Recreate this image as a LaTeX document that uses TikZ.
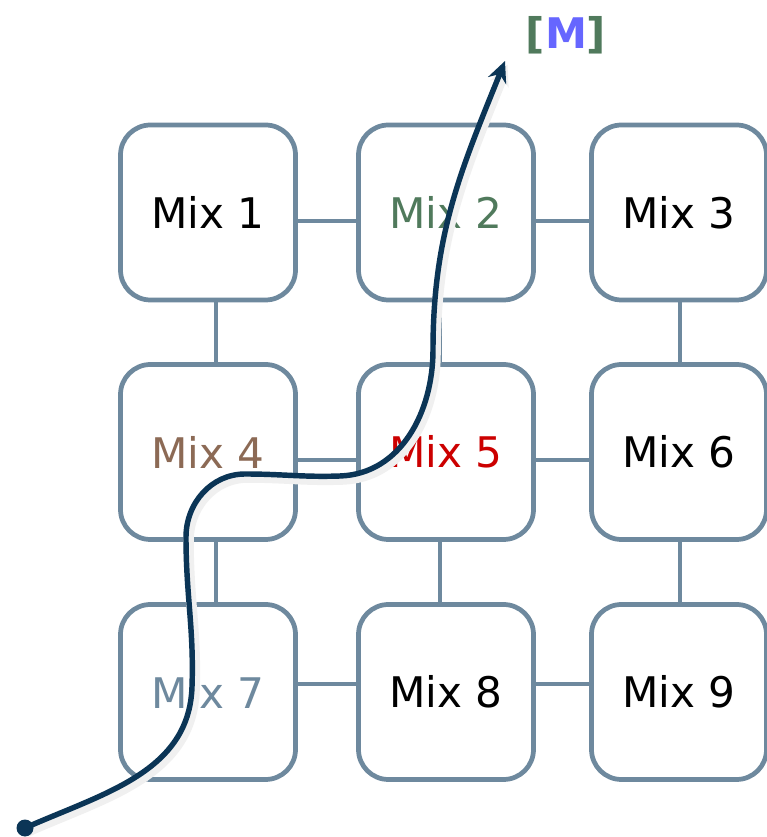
\documentclass[tikz,border=0pt]{standalone}
\usepackage{fontspec}
\setmainfont{DejaVu Sans}
\usetikzlibrary{arrows.meta,positioning}
\definecolor{mixframe}{HTML}{6E899E}
\definecolor{mixgreen}{HTML}{507A5C}
\definecolor{mixbrown}{HTML}{8C6A55}
\definecolor{mixred}{HTML}{CC0000}
\definecolor{mixblue}{HTML}{6666FF}
\definecolor{routenavy}{HTML}{0B3556}

\begin{document}
\begin{tikzpicture}[
  mixbox/.style={draw=mixframe,line width=2.7pt,rounded corners=0.6cm,minimum size=3.5cm,fill=white,font=\fontsize{24}{29}\selectfont},
  link/.style={draw=mixframe,line width=2.7pt},
  route/.style={draw=routenavy,line width=3.1pt,-{Stealth[length=12pt,width=11pt,inset=4pt]},
    preaction={draw=black!6,line width=6pt,transform canvas={shift={(0.05,-0.07)}}}},
  startdot/.style={circle,fill=routenavy,inner sep=0pt,minimum size=0.34cm}
]
  \useasboundingbox (0,0) rectangle (15.34,16.74);

  \node[mixbox] (mix1) at (4.16,12.49) {Mix 1};
  \node[mixbox,text=mixgreen] (mix2) at (8.92,12.49) {Mix 2};
  \node[mixbox] (mix3) at (13.58,12.49) {Mix 3};
  \node[mixbox,text=mixbrown] (mix4) at (4.16,7.70) {Mix 4};
  \node[mixbox,text=mixred] (mix5) at (8.92,7.70) {Mix 5};
  \node[mixbox] (mix6) at (13.58,7.70) {Mix 6};
  \node[mixbox,text=mixframe] (mix7) at (4.16,2.90) {Mix 7};
  \node[mixbox] (mix8) at (8.92,2.90) {Mix 8};
  \node[mixbox] (mix9) at (13.58,2.90) {Mix 9};

  \draw[link] ([yshift=-0.17cm]mix1.east) -- ([yshift=-0.17cm]mix2.west);
  \draw[link] ([yshift=-0.17cm]mix2.east) -- ([yshift=-0.17cm]mix3.west);
  \draw[link] ([yshift=-0.16cm]mix4.east) -- ([yshift=-0.16cm]mix5.west);
  \draw[link] ([yshift=-0.16cm]mix5.east) -- ([yshift=-0.16cm]mix6.west);
  \draw[link] ([yshift=0.16cm]mix7.east) -- ([yshift=0.16cm]mix8.west);
  \draw[link] ([yshift=0.16cm]mix8.east) -- ([yshift=0.16cm]mix9.west);
  \draw[link] ([xshift=0.16cm]mix1.south) -- ([xshift=0.16cm]mix4.north);
  \draw[link] ([xshift=-0.12cm]mix2.south) -- ([xshift=-0.12cm]mix5.north);
  \draw[link] ([xshift=0.02cm]mix3.south) -- ([xshift=0.02cm]mix6.north);
  \draw[link] ([xshift=0.16cm]mix4.south) -- ([xshift=0.16cm]mix7.north);
  \draw[link] ([xshift=-0.12cm]mix5.south) -- ([xshift=-0.12cm]mix8.north);
  \draw[link] ([xshift=0.02cm]mix6.south) -- ([xshift=0.02cm]mix9.north);

  \node[font=\fontsize{24}{29}\selectfont\bfseries,text=mixgreen] (mark) at (11.32,16.04) {[\textcolor{mixblue}{M}]};

  \coordinate (start) at (0.5,0.18);
  \coordinate (finish) at (10.1,15.52);
  \draw[route] (start) to[out=24,in=-92] (3.84,3.0)
    to[out=88,in=-90] (3.72,6.0)
    to[out=90,in=180] (4.9,7.26)
    to[out=0,in=182] (6.8,7.22)
    to[out=2,in=-90] (8.66,9.74)
    to[out=90,in=-112] (finish);
  \node[startdot] (dot) at (start) {};
\end{tikzpicture}
\end{document}
